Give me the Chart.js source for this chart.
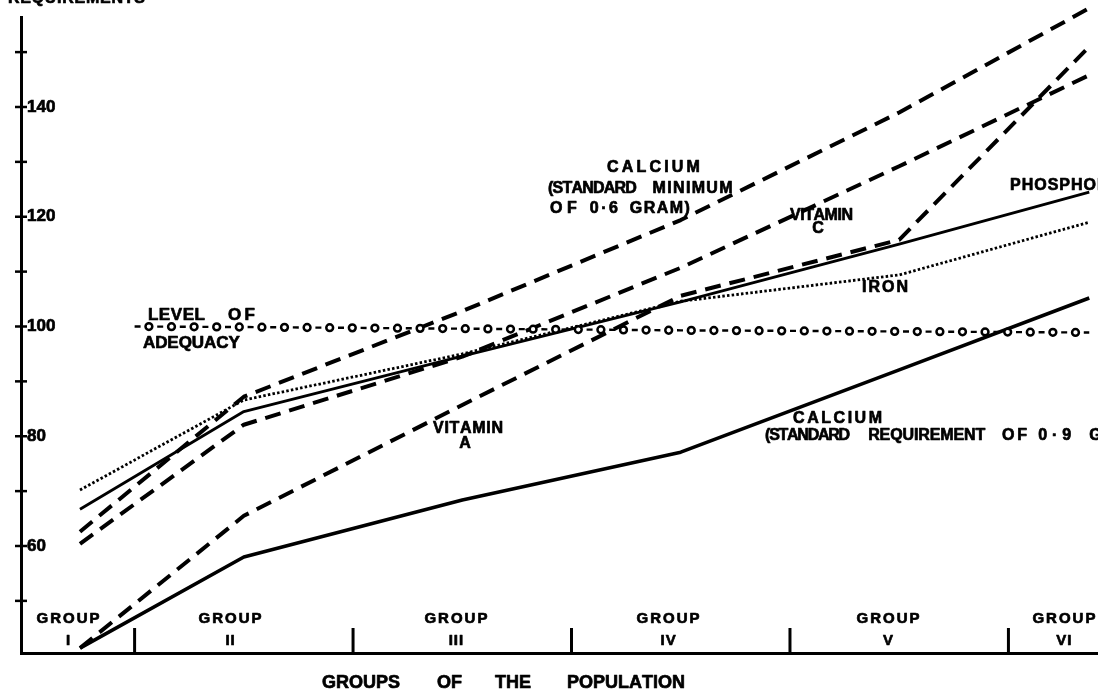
<!DOCTYPE html>
<html>
<head>
<meta charset="utf-8">
<script src="https://cdn.jsdelivr.net/npm/chart.js@4.4.1/dist/chart.umd.min.js"></script>
<style>
html,body{margin:0;padding:0;background:#fff;}
canvas{display:block;}
</style>
</head>
<body>
<canvas id="c" width="1098" height="695"></canvas>
<script>
// ---- data ----
const groupX      = [1.25, 2, 3, 4, 5, 5.87];           // group positions (I start, II..V centres, right edge)
const calcium06   = [62.6, 87.2, 102.8, 119.4, 139.0, 158.0];
const vitaminC    = [60.4, 82.1, 94.5, 110.7, 129.2, 145.8];
const vitaminA    = [41.4, 65.5, 85.7, 105.6, 115.8, 151.0];
const phosphorus  = [66.7, 84.5, 94.6, 104.5, 115.0, 124.5];
const iron        = [70.2, 86.6, 95.0, 104.6, 109.4, 119.0];
const calcium09   = [41.4, 58.0, 68.4, 77.1, 92.1, 105.2];
const levelX      = [1.5, 2, 3, 4, 5, 5.87];
const level       = [100, 99.9, 99.6, 99.3, 99.1, 98.9];
const yTickLabels = [60, 80, 100, 120, 140];
const groupNames  = ['I', 'II', 'III', 'IV', 'V', 'VI'];
const groupLabelX = [1.195, 1.937, 2.971, 3.942, 4.949, 5.754];
const groupDividers = [1.5, 2.5, 3.5, 4.5, 5.5];

const pts = (xs, ys) => xs.map((x, i) => ({x: x, y: ys[i]}));

// ---- annotation text (anchors in data units) ----
const F16 = 'bold 16px "Liberation Sans"';
const F17 = 'bold 17px "Liberation Sans"';
const annotations = [
  {text: 'LEVEL', g: 1.561, v: 101.18, w: 57, font: F17},
  {text: 'OF', g: 1.927, v: 101.18, w: 27, font: F17},
  {text: 'ADEQUACY', g: 1.538, v: 96.08, w: 97, font: F17},
  {text: 'CALCIUM', g: 3.662, v: 128.15, w: 93, font: F16},
  {text: '(STANDARD', g: 3.392, v: 124.33, w: 89, font: F16},
  {text: 'MINIMUM', g: 3.871, v: 124.33, w: 80, font: F16},
  {text: 'OF', g: 3.401, v: 120.68, w: 27, font: F16},
  {text: '0·6', g: 3.584, v: 120.68, w: 28, font: F16},
  {text: 'GRAM)', g: 3.767, v: 120.68, w: 60, font: F16},
  {text: 'VITAMIN', g: 4.500, v: 119.41, w: 63, font: F16},
  {text: 'C', g: 4.628, v: 117.04, center: true, font: F16},
  {text: 'PHOSPHORUS', g: 5.507, v: 124.87, sp: 1, font: F16},
  {text: 'IRON', g: 4.830, v: 106.29, w: 46, font: F16},
  {text: 'VITAMIN', g: 2.866, v: 80.59, w: 70, font: F16},
  {text: 'A', g: 3.012, v: 77.86, center: true, font: F16},
  {text: 'CALCIUM', g: 4.514, v: 82.41, w: 89, font: F16},
  {text: '(STANDARD', g: 4.386, v: 79.32, w: 85, font: F16},
  {text: 'REQUIREMENT', g: 4.858, v: 79.32, w: 117, font: F16},
  {text: 'OF', g: 5.471, v: 79.32, w: 25, font: F16},
  {text: '0·9', g: 5.636, v: 79.32, w: 33, font: F16},
  {text: 'GRAM)', g: 5.870, v: 79.32, sp: 1, font: F16},
  {text: 'REQUIREMENTS', g: 0.92, v: 158.9, w: 137, font: F16},
  {text: 'GROUPS', g: 2.358, v: 34.12, font: 'bold 18px "Liberation Sans"'},
  {text: 'OF', g: 2.884, v: 34.12, font: 'bold 18px "Liberation Sans"'},
  {text: 'THE', g: 3.150, v: 34.12, font: 'bold 18px "Liberation Sans"'},
  {text: 'POPULATION', g: 3.479, v: 34.12, font: 'bold 18px "Liberation Sans"'}
];

function drawSpaced(ctx, text, x, y, font, opt) {
  ctx.font = font;
  const chars = Array.from(text);
  const widths = chars.map(c => ctx.measureText(c).width);
  const total = widths.reduce((a, b) => a + b, 0);
  let sp = opt.sp || 0;
  if (opt.w != null && chars.length > 1) sp = (opt.w - total) / (chars.length - 1);
  let cx = x;
  if (opt.center) cx = x - (total + sp * (chars.length - 1)) / 2;
  chars.forEach((c, i) => {
    ctx.fillText(c, cx, y);
    ctx.strokeText(c, cx, y);
    cx += widths[i] + sp;
  });
}

const overlay = {
  id: 'overlay',
  afterDatasetsDraw(chart) {
    const ctx = chart.ctx;
    const xs = chart.scales.x, ys = chart.scales.y;
    const X = v => xs.getPixelForValue(v), Y = v => ys.getPixelForValue(v);
    const area = chart.chartArea;
    ctx.save();
    ctx.fillStyle = '#000';
    ctx.strokeStyle = '#000';

    // circles on the level-of-adequacy line
    const meta = chart.getDatasetMeta(0);
    const P = meta.data.map(p => ({x: p.x, y: p.y}));
    let acc = 0, next = 14.3;
    ctx.lineWidth = 2.5;
    for (let i = 0; i < P.length - 1; i++) {
      const dx = P[i + 1].x - P[i].x, dy = P[i + 1].y - P[i].y;
      const L = Math.hypot(dx, dy);
      while (next <= acc + L) {
        const t = (next - acc) / L;
        const cx = P[i].x + dx * t, cy = P[i].y + dy * t;
        ctx.beginPath();
        ctx.arc(cx, cy, 3.4, 0, Math.PI * 2);
        ctx.fillStyle = '#fff';
        ctx.fill();
        ctx.stroke();
        next += 22.6;
      }
      acc += L;
    }
    ctx.fillStyle = '#000';

    // y-axis crossing tick marks
    ctx.lineWidth = 2.5;
    ys.ticks.forEach(t => {
      if (Math.abs(t.value % 10) > 1e-6) return;
      const y = Y(t.value);
      ctx.beginPath();
      ctx.moveTo(area.left - 6, y);
      ctx.lineTo(area.left + 6, y);
      ctx.stroke();
    });

    // group dividers on the x axis
    ctx.lineWidth = 3;
    groupDividers.forEach(g => {
      const x = X(g);
      ctx.beginPath();
      ctx.moveTo(x, area.bottom);
      ctx.lineTo(x, area.bottom - 25);
      ctx.stroke();
    });

    // text
    ctx.textBaseline = 'alphabetic';
    ctx.lineWidth = 0.7;
    ctx.lineJoin = 'round';
    groupNames.forEach((n, i) => {
      const x = X(groupLabelX[i]);
      drawSpaced(ctx, 'GROUP', x, Y(45.97), 'bold 15px "Liberation Sans"', {w: 63, center: true});
      drawSpaced(ctx, n, x, Y(41.96), 'bold 15px "Liberation Sans"', {sp: 1, center: true});
    });
    annotations.forEach(a => {
      drawSpaced(ctx, a.text, X(a.g), Y(a.v), a.font, a);
    });
    ctx.restore();
  }
};

const dashed = {borderDash: [16, 9], borderWidth: 4};
const common = {borderColor: '#000', pointRadius: 0, tension: 0, fill: false, clip: false, borderJoinStyle: 'round'};

new Chart(document.getElementById('c'), {
  type: 'line',
  data: {
    datasets: [
      Object.assign({label: 'Level of adequacy', data: pts(levelX, level), borderWidth: 2.4, borderDash: [6, 16.6]}, common),
      Object.assign({label: 'Calcium (standard minimum of 0·6 gram)', data: pts(groupX, calcium06)}, common, dashed),
      Object.assign({label: 'Vitamin C', data: pts(groupX, vitaminC)}, common, dashed),
      Object.assign({label: 'Vitamin A', data: pts(groupX, vitaminA)}, common, dashed),
      Object.assign({label: 'Phosphorus', data: pts(groupX, phosphorus), borderWidth: 2.8}, common),
      Object.assign({label: 'Iron', data: pts(groupX, iron), borderWidth: 2.8, borderDash: [2.5, 2.2]}, common),
      Object.assign({label: 'Calcium (standard requirement of 0·9 gram)', data: pts(groupX, calcium09), borderWidth: 3.6}, common)
    ]
  },
  options: {
    responsive: false,
    animation: false,
    devicePixelRatio: 1,
    layout: {padding: {left: 21, right: 0, top: 17, bottom: 42}},
    plugins: {legend: {display: false}, tooltip: {enabled: false}},
    scales: {
      x: {
        type: 'linear', min: 0.98, max: 5.91,
        grid: {display: false, drawTicks: false},
        ticks: {display: false},
        border: {display: true, color: '#000', width: 3},
        afterFit: s => { s.height = 0; }
      },
      y: {
        type: 'linear', min: 40.5, max: 156.4,
        grid: {display: false, drawTicks: false},
        border: {display: true, color: '#000', width: 3},
        ticks: {
          stepSize: 10, mirror: true, padding: 6, color: '#000',
          textStrokeColor: '#000', textStrokeWidth: 0.7,
          font: {family: 'Liberation Sans', size: 17, weight: 'bold'},
          callback: v => yTickLabels.includes(v) ? String(v) : ''
        },
        afterFit: s => { s.width = 0; }
      }
    }
  },
  plugins: [overlay]
});
</script>
</body>
</html>
